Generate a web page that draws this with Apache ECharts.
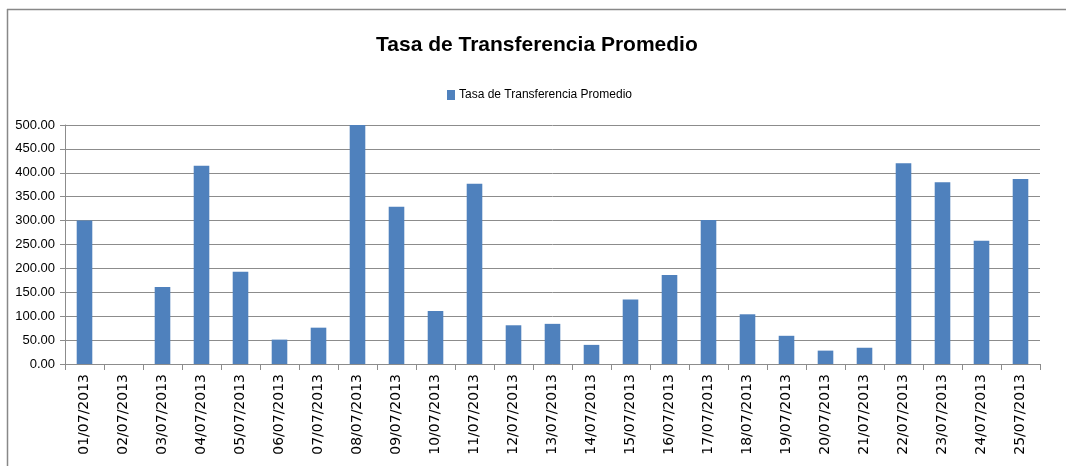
<!DOCTYPE html>
<html>
<head>
<meta charset="utf-8">
<script src="https://cdn.jsdelivr.net/npm/echarts@6/dist/echarts.min.js"></script>
<style>
  html, body { margin: 0; padding: 0; background: #fff; }
  #chart { width: 1066px; height: 466px; }
</style>
</head>
<body>
<div id="chart"></div>
<script>
// fechas del eje x
const fechas = [
  "01/07/2013", "02/07/2013", "03/07/2013", "04/07/2013", "05/07/2013",
  "06/07/2013", "07/07/2013", "08/07/2013", "09/07/2013", "10/07/2013",
  "11/07/2013", "12/07/2013", "13/07/2013", "14/07/2013", "15/07/2013",
  "16/07/2013", "17/07/2013", "18/07/2013", "19/07/2013", "20/07/2013",
  "21/07/2013", "22/07/2013", "23/07/2013", "24/07/2013", "25/07/2013",
];
// valores
const tasaPromedio = [
  300, 0, 161, 415, 193, 51, 76, 500, 329, 111, 377, 81, 84,
  40, 135, 186, 301, 104, 59, 28, 34, 420, 380, 258, 387,
];
const yTicks = { min: 0, max: 500, interval: 50 };

const narrow = "'Liberation Sans Narrow', 'Liberation Sans', sans-serif";

const myChart = echarts.init(document.getElementById("chart"));

const option = {
  animation: false,
  backgroundColor: "#fff",
  title: {
    text: "Tasa de Transferencia Promedio",
    left: 371,
    top: 30,
    textStyle: {
      fontFamily: narrow,
      fontWeight: "bold",
      fontSize: 21,
      color: "#000",
    },
  },
  legend: {
    data: ["Tasa de Transferencia Promedio"],
    top: 84,
    left: 442,
    itemWidth: 8,
    itemHeight: 10,
    itemGap: 4,
    icon: "rect",
    textStyle: { fontFamily: narrow, fontSize: 12, color: "#000", padding: [0, 0, 0, -1] },
  },
  grid: { left: 65, right: 26, top: 125, bottom: 102, containLabel: false },
  xAxis: {
    type: "category",
    data: fechas,
    boundaryGap: true,
    axisLine: { lineStyle: { color: "#8c8c8c", width: 1 } },
    axisTick: { show: true, length: 6, lineStyle: { color: "#8c8c8c" } },
    axisLabel: {
      rotate: 90,
      interval: 0,
      margin: 10,
      fontFamily: "DejaVu Sans, Verdana, sans-serif",
      fontSize: 14,
      color: "#000",
    },
  },
  yAxis: {
    type: "value",
    min: yTicks.min,
    max: yTicks.max,
    interval: yTicks.interval,
    axisLine: { show: true, lineStyle: { color: "#8c8c8c" } },
    axisTick: { show: true, length: 5, lineStyle: { color: "#8c8c8c" } },
    splitLine: { lineStyle: { color: "#8c8c8c", width: 1 } },
    axisLabel: {
      margin: 10,
      fontFamily: narrow,
      fontSize: 13,
      color: "#000",
      formatter: (v) => v.toFixed(2),
    },
  },
  graphic: [
    { type: "line", shape: { x1: 7, y1: 9.5, x2: 1066, y2: 9.5 }, style: { stroke: "#888", lineWidth: 1.5 } },
    { type: "line", shape: { x1: 7.5, y1: 9, x2: 7.5, y2: 466 }, style: { stroke: "#888", lineWidth: 1.5 } },
  ],
  series: [
    {
      name: "Tasa de Transferencia Promedio",
      type: "bar",
      data: tasaPromedio,
      barWidth: "40%",
      itemStyle: { color: "#4f81bd" },
    },
  ],
};

myChart.setOption(option);
</script>
</body>
</html>
